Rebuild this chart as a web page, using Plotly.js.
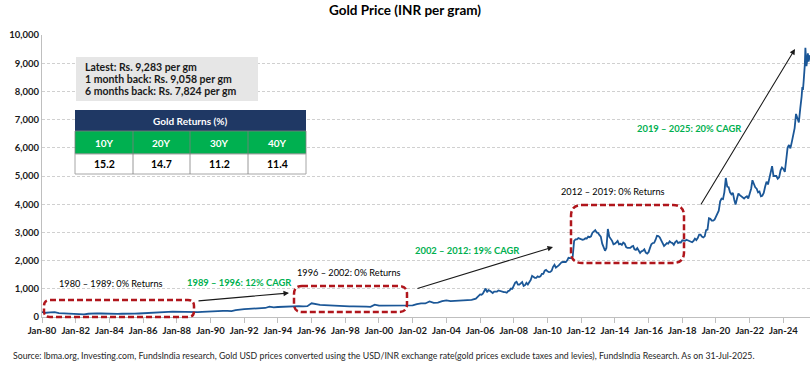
<!DOCTYPE html>
<html><head><meta charset="utf-8">
<script src="https://cdn.plot.ly/plotly-3.0.1.min.js"></script>
<style>html,body{margin:0;padding:0;background:#fff}#chart{width:810px;height:368px}</style>
</head><body><div id="chart"></div>
<script>
// ---- Data ----
const earlyDates = [
"1980-01","1980-04","1980-07","1980-10","1981-01","1981-04","1981-07","1981-10",
"1982-01","1982-04","1982-07","1982-10","1983-01","1983-04","1983-07","1983-10",
"1984-01","1984-04","1984-07","1984-10","1985-01","1985-04","1985-07","1985-10",
"1986-01","1986-04","1986-07","1986-10","1987-01","1987-04","1987-07","1987-10",
"1988-01","1988-04","1988-07","1988-10","1989-01","1989-04","1989-07","1989-10",
"1990-01","1990-04","1990-07","1990-10","1991-01","1991-04","1991-07","1991-10",
"1992-01","1992-04","1992-07","1992-10","1993-01","1993-04","1993-07","1993-10",
"1994-01","1994-04","1994-07","1994-10","1995-01","1995-04","1995-07","1995-10",
"1996-01","1996-04","1996-07","1996-10","1997-01","1997-04","1997-07","1997-10",
"1998-01","1998-04","1998-07","1998-10","1999-01","1999-04","1999-07","1999-10",
"2000-01","2000-04","2000-07","2000-10","2001-01","2001-04","2001-07","2001-10",
"2002-01","2002-04","2002-07","2002-10","2003-01","2003-04","2003-07","2003-10",
"2004-01","2004-04","2004-07","2004-10","2005-01","2005-04","2005-07","2005-10"];
const earlyPrices = [
175,150,165,170, 140,130,115,125,
110,100,95,115, 135,130,125,115,
120,115,110,115, 110,115,120,125,
130,130,135,155, 160,170,180,190,
185,185,180,170, 175,175,185,195,
200,190,200,220, 215,210,240,270,
280,290,300,310, 300,320,370,340,
355,365,370,375, 375,385,380,385,
485,450,430,420, 410,400,380,375,
370,375,380,385, 380,370,360,440,
400,400,395,390, 385,390,400,405,
410,460,485,480, 550,500,510,560,
590,560,570,600, 590,600,610,650];

const lateDates = [
"2006-01","2006-02","2006-03","2006-04","2006-05","2006-06","2006-07","2006-08","2006-09","2006-10","2006-11","2006-12",
"2007-01","2007-02","2007-03","2007-04","2007-05","2007-06","2007-07","2007-08","2007-09","2007-10","2007-11","2007-12",
"2008-01","2008-02","2008-03","2008-04","2008-05","2008-06","2008-07","2008-08","2008-09","2008-10","2008-11","2008-12",
"2009-01","2009-02","2009-03","2009-04","2009-05","2009-06","2009-07","2009-08","2009-09","2009-10","2009-11","2009-12",
"2010-01","2010-02","2010-03","2010-04","2010-05","2010-06","2010-07","2010-08","2010-09","2010-10","2010-11","2010-12",
"2011-01","2011-02","2011-03","2011-04","2011-05","2011-06","2011-07","2011-08","2011-09","2011-10","2011-11","2011-12",
"2012-01","2012-02","2012-03","2012-04","2012-05","2012-06","2012-07","2012-08","2012-09","2012-10","2012-11","2012-12",
"2013-01","2013-02","2013-03","2013-04","2013-05","2013-06","2013-07","2013-08","2013-09","2013-10","2013-11","2013-12",
"2014-01","2014-02","2014-03","2014-04","2014-05","2014-06","2014-07","2014-08","2014-09","2014-10","2014-11","2014-12",
"2015-01","2015-02","2015-03","2015-04","2015-05","2015-06","2015-07","2015-08","2015-09","2015-10","2015-11","2015-12",
"2016-01","2016-02","2016-03","2016-04","2016-05","2016-06","2016-07","2016-08","2016-09","2016-10","2016-11","2016-12",
"2017-01","2017-02","2017-03","2017-04","2017-05","2017-06","2017-07","2017-08","2017-09","2017-10","2017-11","2017-12",
"2018-01","2018-02","2018-03","2018-04","2018-05","2018-06","2018-07","2018-08","2018-09","2018-10","2018-11","2018-12",
"2019-01","2019-02","2019-03","2019-04","2019-05","2019-06","2019-07","2019-08","2019-09","2019-10","2019-11","2019-12",
"2020-01","2020-02","2020-03","2020-04","2020-05","2020-06","2020-07","2020-08","2020-09","2020-10","2020-11","2020-12",
"2021-01","2021-02","2021-03","2021-04","2021-05","2021-06","2021-07","2021-08","2021-09","2021-10","2021-11","2021-12",
"2022-01","2022-02","2022-03","2022-04","2022-05","2022-06","2022-07","2022-08","2022-09","2022-10","2022-11","2022-12",
"2023-01","2023-02","2023-03","2023-04","2023-05","2023-06","2023-07","2023-08","2023-09","2023-10","2023-11","2023-12",
"2024-01","2024-02","2024-03","2024-04","2024-05","2024-06","2024-07","2024-08","2024-09","2024-10","2024-11","2024-12",
"2025-01-01","2025-01-15","2025-01-31","2025-02-15","2025-02-28","2025-03-15","2025-03-31","2025-04-10","2025-04-22","2025-04-30",
"2025-05-15","2025-05-31","2025-06-15","2025-06-30","2025-07-15","2025-07-31"];
const latePrices = [
800,790,830,920,1010,880,950,930,880,850,900,905,
900,940,920,920,900,880,880,860,920,940,1010,1000,
1110,1220,1250,1150,1150,1200,1240,1100,1130,1210,1150,1230,
1310,1460,1430,1390,1390,1440,1420,1440,1530,1530,1640,1670,
1620,1590,1600,1640,1780,1850,1750,1780,1830,1880,1940,1950,
1940,1950,2000,2100,2090,2090,2140,2700,2750,2750,2800,2780,
2780,2740,2750,2790,2780,2850,2830,2860,2990,3050,3080,3000,
2980,2900,2850,2600,2480,2350,2450,3120,2850,2780,2700,2580,
2600,2650,2700,2580,2600,2560,2640,2600,2480,2450,2440,2450,
2500,2520,2400,2380,2440,2350,2270,2330,2350,2400,2280,2250,
2300,2450,2580,2620,2630,2740,2880,2870,2820,2720,2600,2520,
2570,2620,2600,2680,2640,2620,2560,2660,2700,2620,2650,2640,
2720,2700,2700,2740,2720,2690,2660,2650,2700,2780,2730,2800,
2920,2920,2850,2820,2860,3080,3100,3500,3480,3420,3420,3450,
3560,3700,3770,4100,4200,4180,4430,4930,4620,4600,4420,4350,
4400,4150,3990,4200,4380,4320,4280,4250,4200,4250,4280,4200,
4350,4550,4850,4730,4600,4550,4420,4450,4280,4300,4400,4620,
4800,4700,4900,5100,5350,5000,5000,5000,4900,4950,5200,5300,
5250,5150,5550,6000,6100,5980,6200,6420,6700,7200,7000,6900,
7400,7550,7824,8150,8050,8350,8650,8950,9550,9100,
8900,9100,9350,9058,9200,9283];

const infoLines = ["Latest: Rs. 9,283 per gm","1 month back: Rs. 9,058 per gm","6 months back: Rs. 7,824 per gm"];
const tableTitle = "Gold Returns (%)";
const tableHeads = ["10Y","20Y","30Y","40Y"];
const tableValues = ["15.2","14.7","11.2","11.4"];
const periodLabels = ["1980 – 1989: 0% Returns","1989 – 1996: 12% CAGR","1996 – 2002: 0% Returns","2002 – 2012: 19% CAGR","2012 – 2019: 0% Returns","2019 – 2025: 20% CAGR"];
const sourceText = "Source: lbma.org, Investing.com, FundsIndia research, Gold USD prices converted using the USD/INR exchange rate(gold prices exclude taxes and levies), FundsIndia Research. As on 31-Jul-2025.";

// ---- layout helpers (pixel -> paper) ----
const L=42, T=35, W=768, H=282;
const px = x => (x - L)/W;
const py = y => (T + H - y)/H;
const FONT = "Lato, 'Open Sans', sans-serif";
const GREEN = "#00b050", NAVY = "#1f3864", RED = "#b0161c";

function roundRect(x0,y0,x1,y1,r){
  const P=(x,y)=>px(x).toFixed(5)+","+py(y).toFixed(5);
  return "M"+P(x0+r,y0)+" L"+P(x1-r,y0)+" Q"+P(x1,y0)+" "+P(x1,y0+r)+
    " L"+P(x1,y1-r)+" Q"+P(x1,y1)+" "+P(x1-r,y1)+
    " L"+P(x0+r,y1)+" Q"+P(x0,y1)+" "+P(x0,y1-r)+
    " L"+P(x0,y0+r)+" Q"+P(x0,y0)+" "+P(x0+r,y0)+" Z";
}
function rect(x0,y0,x1,y1,fill,line){
  return {type:"rect",xref:"paper",yref:"paper",x0:px(x0),x1:px(x1),y0:py(y1),y1:py(y0),
    fillcolor:fill,line:line||{width:0},layer:"above"};
}
function txt(x,y,text,opts){
  return Object.assign({xref:"paper",yref:"paper",x:px(x),y:py(y),text:text,showarrow:false,
    xanchor:"center",yanchor:"middle",font:{family:FONT,size:9.2,color:"#000"}},opts||{});
}
function arrow(x0,y0,x1,y1){
  return {xref:"paper",yref:"paper",x:px(x1),y:py(y1),ax:x0-x1,ay:y0-y1,text:"",showarrow:true,
    arrowhead:2,arrowsize:1,arrowwidth:1.1,arrowcolor:"#1a1a1a"};
}
const boxLine = {color:RED,width:2.5,dash:"6px,3px"};

const shapes = [
  {type:"path",xref:"paper",yref:"paper",path:roundRect(44,300,194,317,6),line:boxLine},
  {type:"path",xref:"paper",yref:"paper",path:roundRect(294,286,407,312,8),line:boxLine},
  {type:"path",xref:"paper",yref:"paper",path:roundRect(571,205,684,263,11),line:boxLine},
  rect(76,57,258,101,"#e6e6e6"),
  rect(75,110,306,131,NAVY),
  rect(75,131,306,154,GREEN,{color:"#7f7f7f",width:0.8}),
  rect(75,154,306,174,"#ffffff",{color:"#a6a6a6",width:1}),
];
const colEdges=[75,133,190,248,306];
for(let i=1;i<4;i++){
  shapes.push({type:"line",xref:"paper",yref:"paper",x0:px(colEdges[i]),x1:px(colEdges[i]),y0:py(131),y1:py(174),line:{color:"#7f7f7f",width:0.8},layer:"above"});
}

const annotations = [
  txt(405,10,"<b>Gold Price (INR per gram)</b>",{font:{family:FONT,size:13.5,color:"#000"}}),
  txt(83,67,"<b>"+infoLines[0]+"</b>",{xanchor:"left",font:{family:FONT,size:10.5,color:"#1a1a1a"}}),
  txt(83,79,"<b>"+infoLines[1]+"</b>",{xanchor:"left",font:{family:FONT,size:10.5,color:"#1a1a1a"}}),
  txt(83,91,"<b>"+infoLines[2]+"</b>",{xanchor:"left",font:{family:FONT,size:10.5,color:"#1a1a1a"}}),
  txt(190,121,"<b>"+tableTitle+"</b>",{font:{family:FONT,size:10,color:"#fff"}}),
  txt(111,283,periodLabels[0]),
  txt(239,282,"<b>"+periodLabels[1]+"</b>",{font:{family:FONT,size:9.4,color:GREEN}}),
  txt(349,272,periodLabels[2]),
  txt(467,250,"<b>"+periodLabels[3]+"</b>",{font:{family:FONT,size:9.4,color:GREEN}}),
  txt(613,191,periodLabels[4]),
  txt(689,128,"<b>"+periodLabels[5]+"</b>",{font:{family:FONT,size:9.4,color:GREEN}}),
  arrow(197,301,289,293),
  arrow(416,289,553,247),
  arrow(700,206,795,49),
  txt(11,355,sourceText,{xanchor:"left",font:{family:FONT,size:8.75,color:"#262626"}}),
];
for(let i=0;i<4;i++){
  const c=(colEdges[i]+colEdges[i+1])/2;
  annotations.push(txt(c,142.5,"<b>"+tableHeads[i]+"</b>",{font:{family:FONT,size:10,color:"#fff"}}));
  annotations.push(txt(c,164,"<b>"+tableValues[i]+"</b>",{font:{family:FONT,size:10.5,color:"#000"}}));
}

const trace = {
  type:"scatter",mode:"lines",
  x: earlyDates.concat(lateDates),
  y: earlyPrices.concat(latePrices),
  line:{color:"#1b5797",width:1.8},
  hoverinfo:"skip"
};

const layout = {
  width:810,height:368,
  margin:{l:L,r:0,t:T,b:368-T-H},
  paper_bgcolor:"#fff",plot_bgcolor:"#fff",
  showlegend:false,
  xaxis:{type:"date",range:["1980-01-01","2025-07-31"],tick0:"1980-01-01",dtick:"M24",tickformat:"%b-%y",
    showgrid:false,zeroline:false,showline:true,linecolor:"#bfbfbf",linewidth:1,
    ticks:"outside",ticklen:5,tickcolor:"#bfbfbf",
    tickfont:{family:FONT,size:9.5,color:"#1a1a1a",weight:"bold"}},
  yaxis:{range:[0,10000],dtick:1000,tickformat:",d",
    showgrid:true,gridcolor:"#d0d0d0",griddash:"3px,2px",gridwidth:1,zeroline:false,
    showline:true,linecolor:"#bfbfbf",linewidth:1,ticks:"",
    tickfont:{family:FONT,size:9.5,color:"#1a1a1a",weight:"bold"}},
  shapes:shapes,
  annotations:annotations
};

Plotly.newPlot("chart",[trace],layout,{staticPlot:true,displayModeBar:false});
</script>
</body></html>
